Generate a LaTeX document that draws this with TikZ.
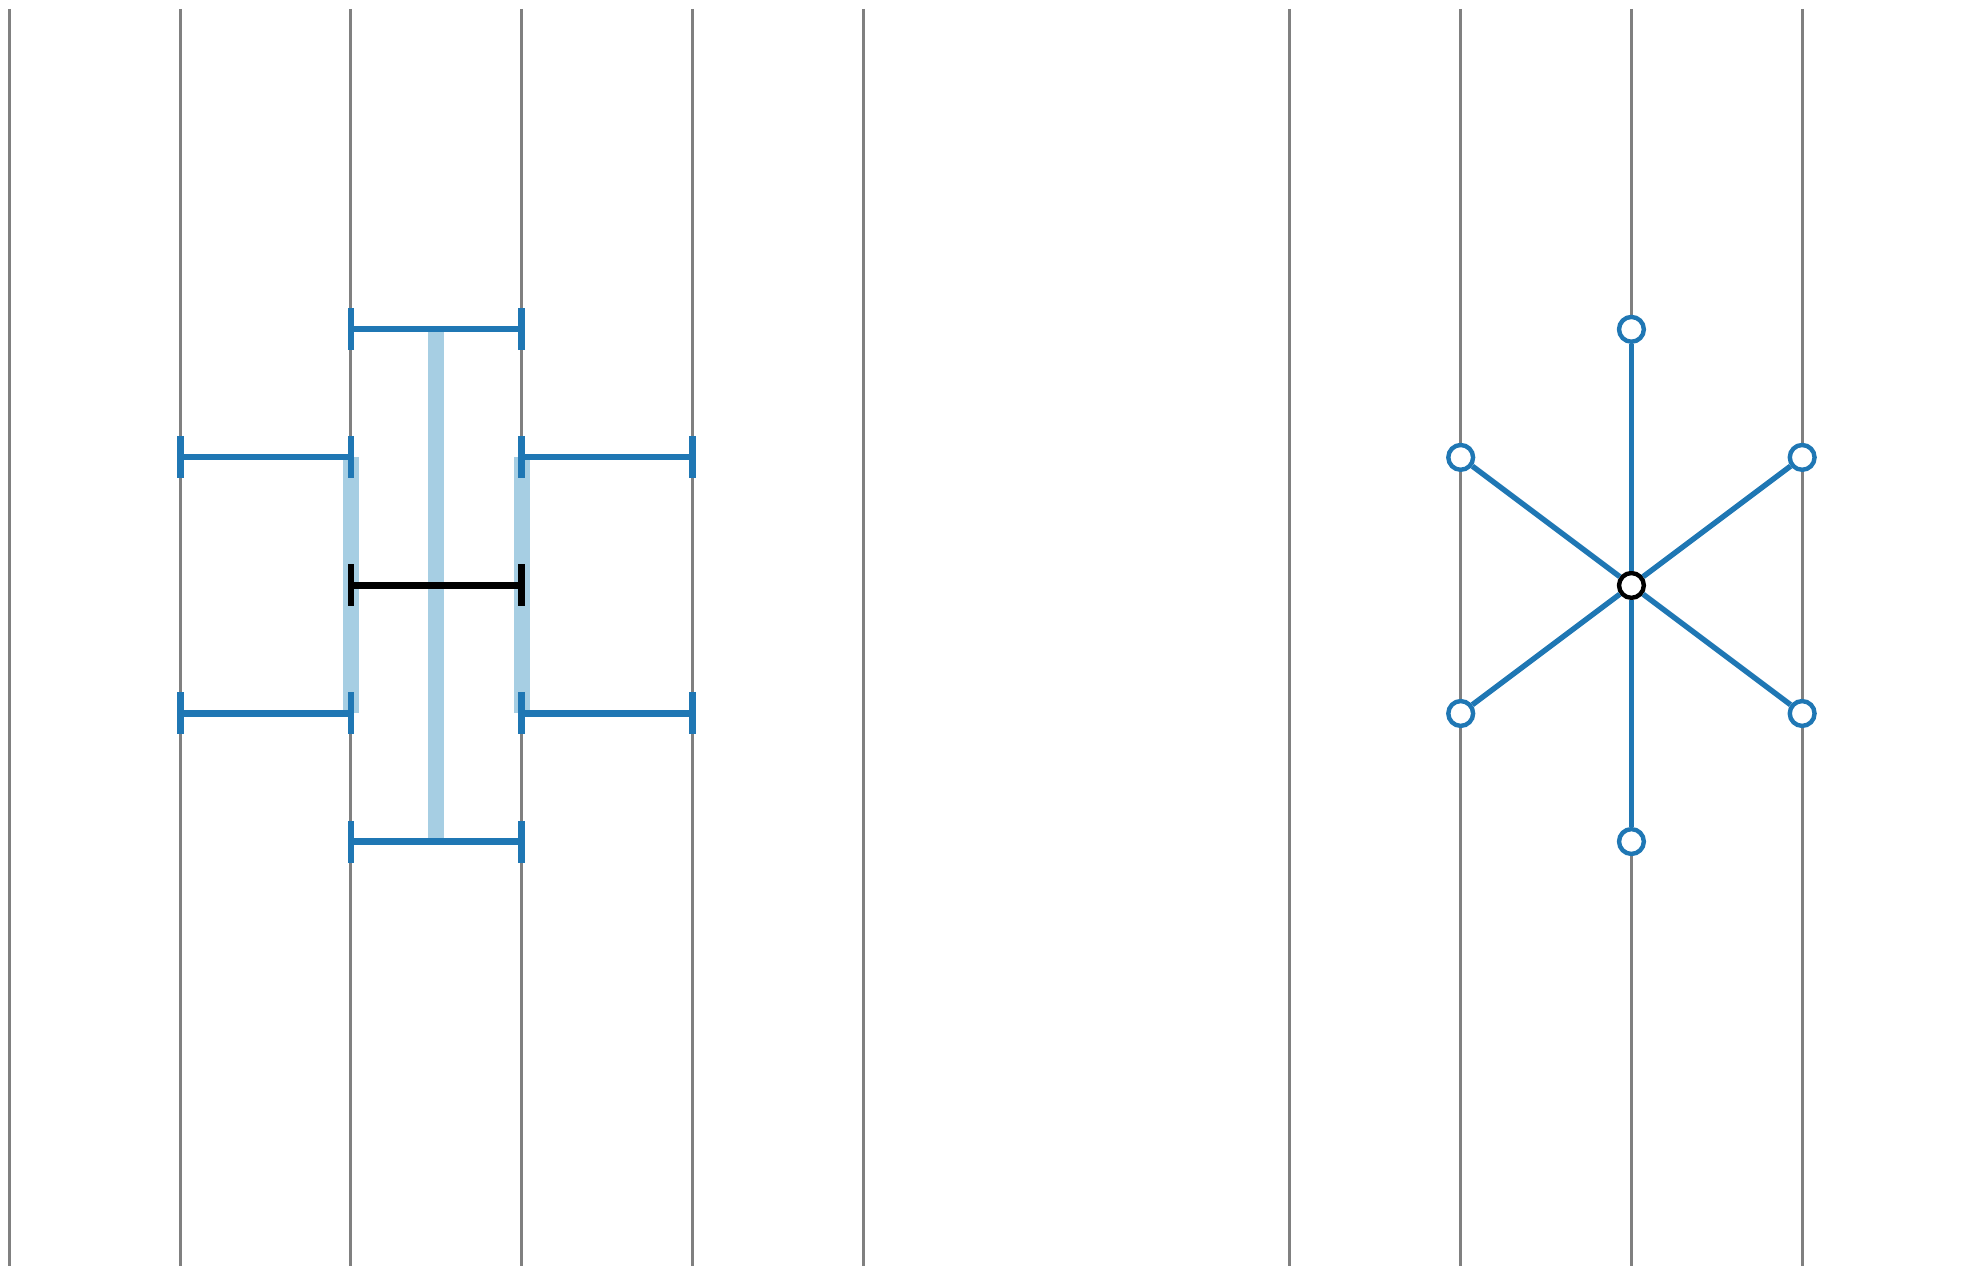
\documentclass[tikz,border=0pt]{standalone}
\usetikzlibrary{positioning,calc}
\definecolor{tabblue}{HTML}{1F77B4}
\definecolor{paleblue}{HTML}{A6CEE3}
\tikzset{
  guide/.style={draw=gray, line width=1.5pt},
  band/.style={draw=paleblue, line width=8pt},
  tick/.style={rectangle, fill=tabblue, inner sep=0pt, minimum width=3.3pt, minimum height=21pt},
  span/.style={draw=tabblue, line width=3.1pt},
  site/.style={circle, draw=tabblue, fill=white, line width=2.2pt, inner sep=0pt, minimum size=12.4pt},
  spoke/.style={draw=tabblue, line width=2.7pt}
}
\begin{document}
\begin{tikzpicture}[x=3cm, y=2.25cm]
    \useasboundingbox (-0.0556,-5.317) rectangle (11.483,4.572);
    % vertical guides
    \foreach \x in {0,1,2,3,4,5,7.5,8.5,9.5,10.5}
        \draw[guide] (\x,4.502) -- (\x,-5.317);

    % left group: grid points
    \coordinate (c21) at (2,2);   \coordinate (c31) at (3,2);
    \coordinate (c12) at (1,1);   \coordinate (c22) at (2,1);
    \coordinate (c32) at (3,1);   \coordinate (c42) at (4,1);
    \coordinate (c23) at (2,0);   \coordinate (c33) at (3,0);
    \coordinate (c14) at (1,-1);  \coordinate (c24) at (2,-1);
    \coordinate (c34) at (3,-1);  \coordinate (c44) at (4,-1);
    \coordinate (c25) at (2,-2);  \coordinate (c35) at (3,-2);
    \coordinate (mid1) at ($(c21)!0.5!(c31)$);
    \coordinate (mid5) at ($(c25)!0.5!(c35)$);

    % pale bands
    \draw[band] (mid1) -- (mid5);
    \draw[band] (c22) -- (c24);
    \draw[band] (c32) -- (c34);

    % ticks
    \foreach \p in {21,31,12,22,32,42,14,24,34,44,25,35}
        \node[tick] (t\p) at (c\p) {};
    \node[tick, fill=black] (t23) at (c23) {};
    \node[tick, fill=black] (t33) at (c33) {};

    \draw[span] (t21.center) -- (t31.center);
    \draw[span] (t12.center) -- (t22.center);
    \draw[span] (t32.center) -- (t42.center);
    \draw[span, draw=black] (t23.center) -- (t33.center);
    \draw[span] (t14.center) -- (t24.center);
    \draw[span] (t34.center) -- (t44.center);
    \draw[span] (t25.center) -- (t35.center);

    % right group: star
    \node[site] (top) at (9.5,2) {};
    \node[site] (upleft) at (8.5,1) {};
    \node[site] (upright) at (10.5,1) {};
    \node[site] (lowleft) at (8.5,-1) {};
    \node[site] (lowright) at (10.5,-1) {};
    \node[site] (bottom) at (9.5,-2) {};
    \node[site, draw=black] (hub) at (9.5,0) {};

    \foreach \s in {top,upleft,upright,lowleft,lowright,bottom}
        \draw[spoke] (hub) -- (\s);
\end{tikzpicture}
\end{document}
